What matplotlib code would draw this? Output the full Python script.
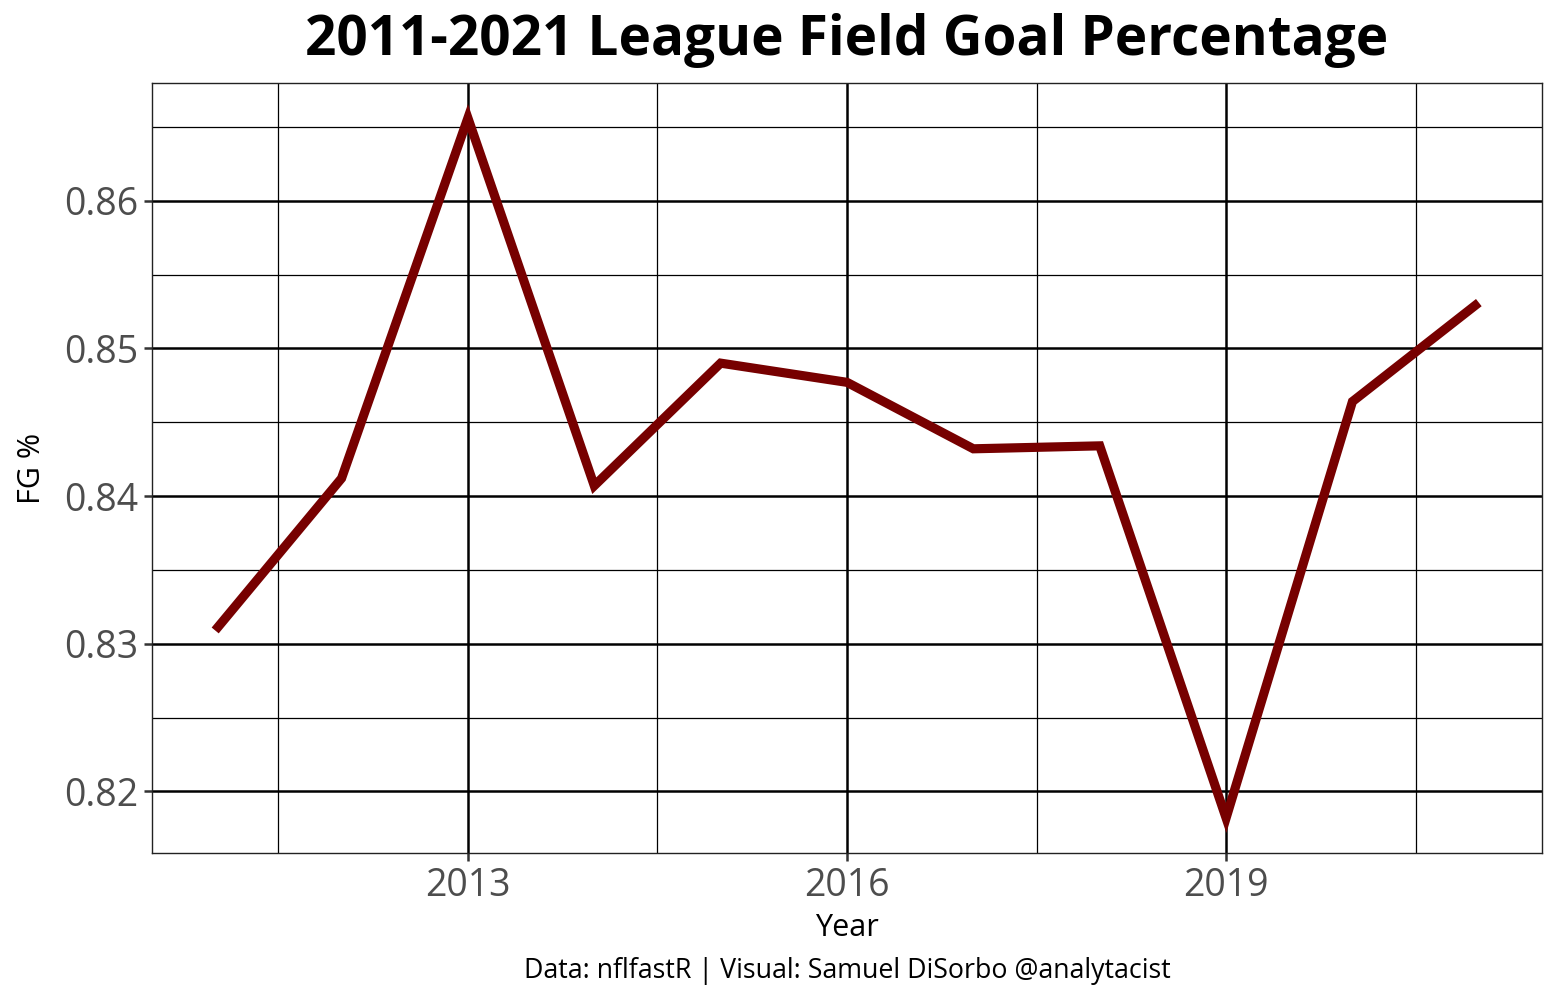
import matplotlib
matplotlib.use("Agg")
import matplotlib.pyplot as plt
from matplotlib.ticker import FixedLocator

years = [2011, 2012, 2013, 2014, 2015, 2016, 2017, 2018, 2019, 2020, 2021]
fg_pct = [0.8309, 0.8412, 0.8656, 0.8407, 0.8490, 0.8477, 0.8432, 0.8434, 0.8182, 0.8464, 0.8531]
x_ticks = [2013, 2016, 2019]
y_ticks = [0.82, 0.83, 0.84, 0.85, 0.86]

title = "2011-2021 League Field Goal Percentage"
xlabel = "Year"
ylabel = "FG %"
caption = "Data: nflfastR | Visual: Samuel DiSorbo @analytacist"

plt.rcParams['font.family'] = ['Open Sans', 'DejaVu Sans']

fig = plt.figure(figsize=(15.59, 10.02), dpi=100)
ax = fig.add_axes([152/1559, 1 - 853/1002, (1542-152)/1559, (853-83)/1002])

ax.plot(years, fg_pct, color='#770000', linewidth=6.6, solid_capstyle='butt', solid_joinstyle='miter', zorder=3)

ax.set_xlim(2010.5, 2021.5)
ymin, ymax = min(fg_pct), max(fg_pct)
pad = (ymax - ymin) * 0.05
ax.set_ylim(ymin - pad, ymax + pad)

ax.xaxis.set_major_locator(FixedLocator(x_ticks))
ax.xaxis.set_minor_locator(FixedLocator([2011.5, 2014.5, 2017.5, 2020.5]))
ax.yaxis.set_major_locator(FixedLocator(y_ticks))
ax.yaxis.set_minor_locator(FixedLocator([0.815, 0.825, 0.835, 0.845, 0.855, 0.865]))
ax.set_xticklabels([str(t) for t in x_ticks])
ax.set_yticklabels([f"{t:.2f}" for t in y_ticks])

ax.grid(which='major', color='black', linewidth=1.8, zorder=1)
ax.grid(which='minor', color='black', linewidth=0.9, zorder=1)
ax.set_axisbelow(True)

for s in ax.spines.values():
    s.set_color('#222222')
    s.set_linewidth(1.0)

ax.tick_params(which='major', length=6, width=1.8, color='#333333', labelsize=27, labelcolor='#4d4d4d', pad=4)
ax.tick_params(which='minor', length=0)

ax.set_xlabel(xlabel, fontsize=22, color='black', labelpad=6)
ax.set_ylabel(ylabel, fontsize=22, color='black', labelpad=12)

fig.suptitle(title, fontsize=39.5, fontweight='bold', x=(152+1542)/2/1559, y=1 - 13/1002, va='top')
fig.text((152+1542)/2/1559, 1 - 971/1002, caption, fontsize=19.3, ha='center', va='center', color='black')

fig.savefig("out.png", dpi=100, facecolor='white')
